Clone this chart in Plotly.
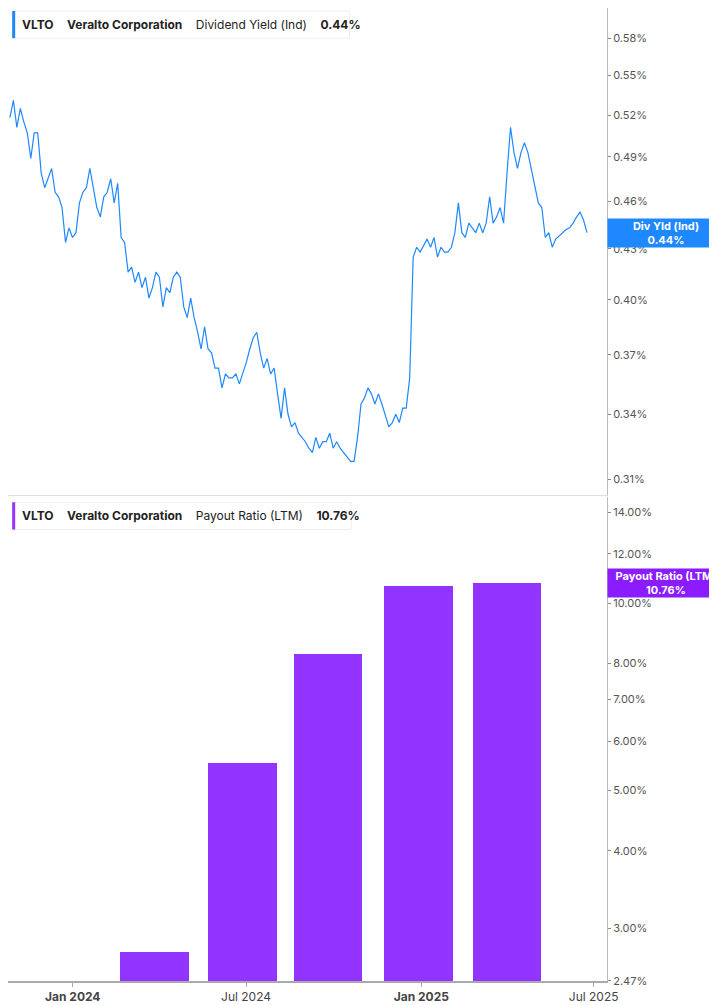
import pandas as pd
import plotly.graph_objects as go
from plotly.subplots import make_subplots

# dividend yield (%), roughly evenly sampled from late Oct 2023 to late Jun 2025
yield_vals = [0.518, 0.531, 0.511, 0.525, 0.515, 0.507, 0.489, 0.507, 0.507, 0.479,
              0.469, 0.475, 0.482, 0.466, 0.463, 0.456, 0.434, 0.443, 0.437, 0.440,
              0.459, 0.466, 0.469, 0.482, 0.469, 0.456, 0.450, 0.463, 0.466, 0.475,
              0.459, 0.472, 0.437, 0.434, 0.416, 0.419, 0.410, 0.416, 0.407, 0.413,
              0.401, 0.407, 0.416, 0.413, 0.396, 0.407, 0.404, 0.413, 0.416, 0.413,
              0.396, 0.390, 0.401, 0.390, 0.382, 0.373, 0.385, 0.373, 0.371, 0.363,
              0.363, 0.353, 0.360, 0.358, 0.358, 0.360, 0.355, 0.360, 0.366, 0.373,
              0.379, 0.382, 0.371, 0.363, 0.368, 0.360, 0.363, 0.350, 0.338, 0.353,
              0.340, 0.334, 0.336, 0.331, 0.329, 0.327, 0.324, 0.322, 0.329, 0.324,
              0.327, 0.327, 0.331, 0.324, 0.327, 0.324, 0.322, 0.320, 0.318, 0.318,
              0.329, 0.345, 0.348, 0.353, 0.350, 0.345, 0.350, 0.345, 0.340, 0.334,
              0.336, 0.340, 0.336, 0.343, 0.343, 0.358, 0.425, 0.431, 0.428, 0.432,
              0.436, 0.431, 0.437, 0.425, 0.431, 0.428, 0.428, 0.431, 0.440, 0.459,
              0.440, 0.437, 0.446, 0.443, 0.440, 0.446, 0.440, 0.446, 0.463, 0.446,
              0.450, 0.456, 0.446, 0.479, 0.511, 0.493, 0.482, 0.493, 0.500, 0.493,
              0.482, 0.469, 0.459, 0.456, 0.437, 0.440, 0.431, 0.436, 0.438, 0.440,
              0.442, 0.443, 0.446, 0.450, 0.453, 0.448, 0.440]
yield_dates = pd.date_range("2023-10-27", "2025-06-24", periods=len(yield_vals))

# payout ratio (LTM, %) per quarter
payout_dates = ["2024-03-27", "2024-06-27", "2024-09-25", "2024-12-29", "2025-04-01"]
payout_vals = [2.75, 5.52, 8.27, 10.64, 10.76]

yield_ticks = [0.31, 0.34, 0.37, 0.40, 0.43, 0.46, 0.49, 0.52, 0.55, 0.58]
payout_ticks = [2.47, 3, 4, 5, 6, 7, 8, 10, 12, 14]
x_ticks = ["2024-01-01", "2024-07-01", "2025-01-01", "2025-07-01"]
x_labels = ["<b>Jan 2024</b>", "Jul 2024", "<b>Jan 2025</b>", "Jul 2025"]

BLUE = "#1e88ff"
PURPLE = "#9333ff"
FONT = "Inter"

fig = make_subplots(rows=2, cols=1, shared_xaxes=True, vertical_spacing=0.003)

fig.add_trace(go.Scatter(x=yield_dates, y=yield_vals, mode="lines",
                         line=dict(color=BLUE, width=1.2), showlegend=False), row=1, col=1)
fig.add_trace(go.Bar(x=pd.to_datetime(payout_dates), y=payout_vals, width=72 * 86400000,
                     marker=dict(color=PURPLE, line=dict(width=0)), showlegend=False),
              row=2, col=1)

axis_font = dict(family=FONT, size=11, color="#555")
fig.update_yaxes(type="log", side="right", showgrid=False, zeroline=False,
                 showline=True, linecolor="#bbb", ticks="outside", ticklen=3,
                 tickcolor="#888", tickfont=axis_font)
fig.update_yaxes(range=[-0.518, -0.218], tickvals=yield_ticks,
                 ticktext=[f"{v:.2f}%" for v in yield_ticks], row=1, col=1)
fig.update_yaxes(range=[0.3927, 1.170], tickvals=payout_ticks,
                 ticktext=[f"{v:.2f}%" for v in payout_ticks], row=2, col=1)
fig.update_xaxes(range=["2023-10-25", "2025-07-15"], showgrid=False, zeroline=False)
fig.update_xaxes(showline=True, linecolor="#ddd", row=1, col=1)
fig.update_xaxes(tickvals=x_ticks, ticktext=x_labels, showline=True, linecolor="#aaa",
                 linewidth=2, ticks="outside", ticklen=4, tickcolor="#aaa",
                 tickfont=dict(family=FONT, size=12, color="#444"), row=2, col=1)

fig.update_layout(
    width=717, height=1005, margin=dict(l=0, r=118, t=0, b=32),
    plot_bgcolor="white", paper_bgcolor="white", bargap=0,
    yaxis=dict(domain=[0.5, 1.0]), yaxis2=dict(domain=[0.0, 0.497]),
    font=dict(family=FONT),
)

# legend boxes
def legend_box(y, w, color, text):
    fig.add_shape(type="rect", xref="paper", yref="paper", x0=0.007, x1=0.007 + w,
                  y0=y - 0.028, y1=y, line=dict(color="#eee", width=1), fillcolor="white")
    fig.add_shape(type="rect", xref="paper", yref="paper", x0=0.007, x1=0.012,
                  y0=y - 0.028, y1=y, line=dict(width=0), fillcolor=color)
    fig.add_annotation(xref="paper", yref="paper", x=0.02, y=y - 0.014, xanchor="left",
                       yanchor="middle", showarrow=False, text=text,
                       font=dict(family=FONT, size=12, color="#222"))

legend_box(0.997, 0.563, BLUE,
           "<b>VLTO</b>    <b>Veralto Corporation</b>    Dividend Yield (Ind)    <b>0.44%</b>")
legend_box(0.492, 0.566, PURPLE,
           "<b>VLTO</b>    <b>Veralto Corporation</b>    Payout Ratio (LTM)    <b>10.76%</b>")

# last value badges
for y, color, text in [(0.44, BLUE, "<b>Div Yld (Ind)</b><br><b>0.44%</b>")]:
    fig.add_annotation(xref="paper", yref="y", x=1.0, y=-0.3565, xanchor="left",
                       showarrow=False, text=text, bgcolor=color, width=112, height=24,
                       borderpad=2, font=dict(family=FONT, size=11, color="white"))
fig.add_annotation(xref="paper", yref="y2", x=1.0, y=1.032, xanchor="left",
                   showarrow=False, text="<b>Payout Ratio (LTM)</b><br><b>10.76%</b>",
                   bgcolor="#8a1cff", width=112, height=24, borderpad=2,
                   font=dict(family=FONT, size=11, color="white"))

fig.write_html("out.html")
